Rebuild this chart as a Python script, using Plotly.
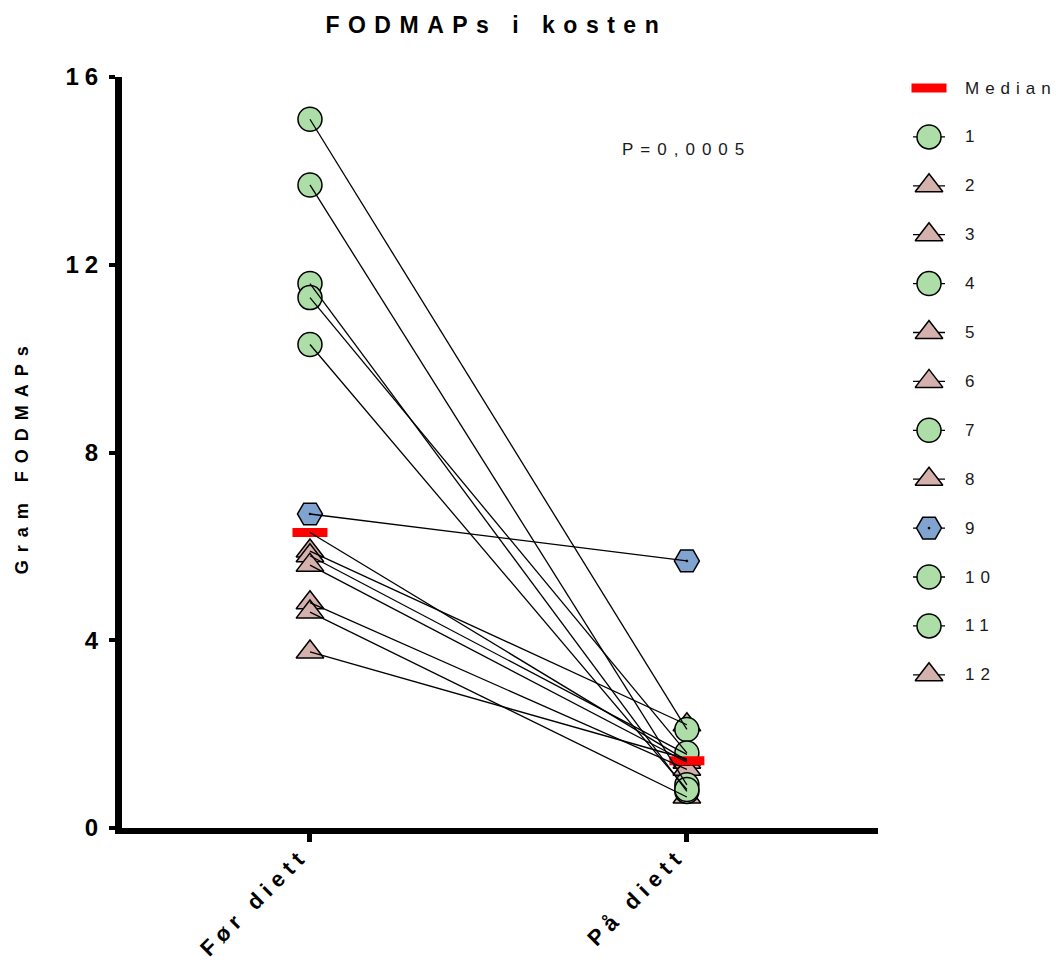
import plotly.graph_objects as go
import numpy as np

# ---------------- data ----------------
title_text = "FODMAPs i kosten"
categories = ["Før diett", "På diett"]
y_title = "Gram FODMAPs"
p_text = "P=0,0005"
y_ticks = [0, 4, 8, 12, 16]

patients = ["1", "2", "3", "4", "5", "6", "7", "8", "9", "10", "11", "12"]
groups = ["circle", "triangle", "triangle", "circle", "triangle", "triangle",
          "circle", "triangle", "hexagon", "circle", "circle", "triangle"]
before = [15.1, 5.9, 5.8, 13.7, 5.6, 4.8, 11.6, 4.6, 6.69, 11.3, 10.3, 3.75]
after = [2.1, 2.2, 1.57, 0.92, 1.4, 1.25, 0.78, 0.66, 5.69, 1.6, 0.82, 1.47]

median_before = float(np.median(before))
median_after = float(np.median(after))

# ---------------- styles ----------------
FONT = "Arial, Liberation Sans, sans-serif"
STYLE = {
    "circle": dict(symbol="circle", size=24, color="#ADDEA8"),
    "triangle": dict(symbol="triangle-up", size=24, color="#D5B1AE"),
    "hexagon": dict(symbol="hexagon2-dot", size=25, color="#80A3CF"),
}
MEDIAN_STYLE = dict(symbol="line-ew", size=25, color="#FF0000", lw=9)


def spaced(txt, px, bold=False):
    s = '<span style="letter-spacing:%gpx">%s</span>' % (px, txt)
    return "<b>" + s + "</b>" if bold else s


fig = go.Figure()

# markers: triangles, hexagon, circles (draw order), then median, then lines on top
for g in ["triangle", "hexagon", "circle"]:
    idx = [i for i, gg in enumerate(groups) if gg == g]
    xs = [0] * len(idx) + [1] * len(idx)
    ys = [before[i] for i in idx] + [after[i] for i in idx]
    st = STYLE[g]
    fig.add_trace(go.Scatter(
        x=xs, y=ys, mode="markers", showlegend=False, hoverinfo="skip",
        marker=dict(symbol=st["symbol"], size=st["size"], color=st["color"],
                    line=dict(color="black", width=1.5)),
        xaxis="x", yaxis="y"))

fig.add_trace(go.Scatter(
    x=[0, 1], y=[median_before, median_after], mode="markers", showlegend=False,
    hoverinfo="skip",
    marker=dict(symbol=MEDIAN_STYLE["symbol"], size=MEDIAN_STYLE["size"],
                color=MEDIAN_STYLE["color"],
                line=dict(color=MEDIAN_STYLE["color"], width=MEDIAN_STYLE["lw"]))))

lx, ly = [], []
for b, a in list(zip(before, after)) + [(median_before, median_after)]:
    lx += [0, 1, None]
    ly += [b, a, None]
fig.add_trace(go.Scatter(x=lx, y=ly, mode="lines", showlegend=False,
                         hoverinfo="skip", line=dict(color="black", width=1.3)))

# ---------------- custom legend (own hidden axes) ----------------
leg_names = ["Median"] + patients
leg_syms = ["median"] + groups
LEG_TOP, LEG_STEP = 88, 48.9
LEG_MX, LEG_L0, LEG_L1, LEG_TX = 929, 913, 945, 963
llx, lly = [], []
for i in range(len(leg_names)):
    yy = LEG_TOP + i * LEG_STEP
    llx += [LEG_L0, LEG_L1, None]
    lly += [yy, yy, None]
fig.add_trace(go.Scatter(x=llx, y=lly, mode="lines", showlegend=False, hoverinfo="skip",
                         line=dict(color="black", width=1.3), xaxis="x2", yaxis="y2"))
for i, (nm, s) in enumerate(zip(leg_names, leg_syms)):
    yy = LEG_TOP + i * LEG_STEP
    if s == "median":
        mk = dict(symbol=MEDIAN_STYLE["symbol"], size=MEDIAN_STYLE["size"],
                  color=MEDIAN_STYLE["color"],
                  line=dict(color=MEDIAN_STYLE["color"], width=MEDIAN_STYLE["lw"]))
    else:
        st = STYLE[s]
        mk = dict(symbol=st["symbol"], size=st["size"], color=st["color"],
                  line=dict(color="black", width=1.5))
    fig.add_trace(go.Scatter(x=[LEG_MX], y=[yy], mode="markers", marker=mk,
                             showlegend=False, hoverinfo="skip", xaxis="x2", yaxis="y2"))
    fig.add_annotation(x=LEG_TX, y=yy, xref="x2", yref="y2", text=spaced(nm, 6),
                       showarrow=False, xanchor="left", yanchor="middle",
                       font=dict(family=FONT, size=17, color="#1a1a1a"))

# ---------------- annotations ----------------
fig.add_annotation(x=1, y=14.45, xref="x", yref="y", text=spaced(p_text, 7), showarrow=False,
                   xanchor="center", yanchor="middle",
                   font=dict(family=FONT, size=17, color="#1a1a1a"))
fig.add_annotation(x=-0.107, y=0.495, xref="paper", yref="paper",
                   text=spaced(y_title, 8, bold=True),
                   textangle=-90, showarrow=False, xanchor="center", yanchor="middle",
                   font=dict(family=FONT, size=18, color="black"))

fig.update_layout(
    width=1056, height=960,
    margin=dict(l=122, r=0, t=77, b=132, autoexpand=False),
    paper_bgcolor="white", plot_bgcolor="white",
    showlegend=False,
    title=dict(text=spaced(title_text, 8.5, bold=True), x=0.47, xref="container",
               xanchor="center", y=0.974, yref="container", yanchor="middle",
               font=dict(family=FONT, size=23, color="black"), automargin=False),
    xaxis=dict(domain=[0, 0.8094], range=[-0.4987, 1.507], tickvals=[0, 1],
               ticktext=[spaced(c, 6, bold=True) for c in categories], tickangle=-45,
               tickfont=dict(family=FONT, size=22, color="black"),
               showline=True, linewidth=6, linecolor="black", ticks="outside",
               ticklen=8, tickwidth=5, tickcolor="black", showgrid=False, zeroline=False,
               ticklabelstandoff=-8, ticklabelshift=-8,
               anchor="y", automargin=False),
    yaxis=dict(domain=[0, 1], range=[0, 16], tickvals=y_ticks,
               ticktext=[spaced("%d" % v, 6, bold=True) for v in y_ticks],
               tickfont=dict(family=FONT, size=24, color="black"),
               showline=True, linewidth=7, linecolor="black", ticks="outside",
               ticklen=6, tickwidth=4, tickcolor="black", showgrid=False, zeroline=False,
               anchor="x", automargin=False),
    xaxis2=dict(domain=[0.818, 1], range=[886, 1056], visible=False, anchor="y2",
                fixedrange=True, automargin=False),
    yaxis2=dict(domain=[0, 1], range=[828, 77], visible=False, anchor="x2",
                fixedrange=True, automargin=False),
)

fig.write_html("out.html")
